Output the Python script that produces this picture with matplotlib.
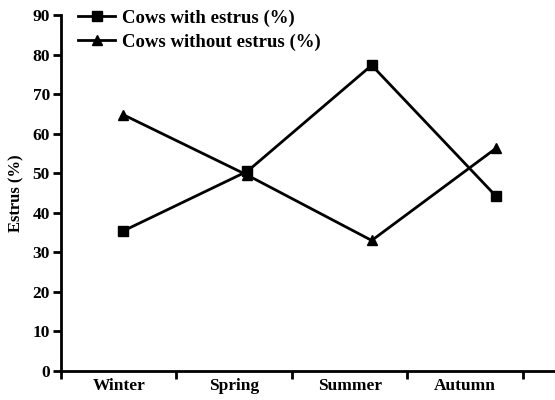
import numpy as np
import matplotlib.pyplot as plt

seasons = ['Winter', 'Spring', 'Summer', 'Autumn']
with_estrus = [35.4, 50.5, 77.3, 44.2]
without_estrus = [64.8, 49.5, 33.0, 56.3]

plt.rcParams['font.family'] = ['Liberation Serif']
plt.rcParams['font.weight'] = 'bold'

fig = plt.figure(figsize=(5.55, 4.0), dpi=100)
ax = fig.add_axes([0.110, 0.0725, 0.89, 0.89])

x = np.arange(len(seasons))
ax.plot(x, with_estrus, color='black', lw=2, marker='s', ms=7, label='Cows with estrus (%)')
ax.plot(x, without_estrus, color='black', lw=2, marker='^', ms=7, label='Cows without estrus (%)')
ax.set_xlim(-0.5, 3.475)
ax.set_ylim(0, 90)
ax.set_yticks(range(0, 91, 10))
ax.tick_params(axis='y', direction='out', length=6, width=2, labelsize=12.5, pad=2)
ax.set_xticks([])
ax.set_ylabel('Estrus (%)', fontsize=12, fontweight='bold', labelpad=6)
for s in ['top', 'right', 'bottom']:
    ax.spines[s].set_visible(False)
ax.spines['left'].set_linewidth(2)

# category axis along the bottom
ax2 = ax.twiny()
ax2.xaxis.set_ticks_position('bottom')
ax2.spines['bottom'].set_position(('axes', 0))
ax2.set_xlim(0, 4.28)
ax2.set_xticks(range(5))
ax2.set_xticklabels([])
ax2.set_xticks(np.arange(len(seasons)) + 0.5, minor=True)
ax2.set_xticklabels(seasons, minor=True, fontsize=12.5, fontweight='bold')
ax2.tick_params(axis='x', which='major', direction='out', length=6, width=2)
ax2.tick_params(axis='x', which='minor', length=0, pad=5)
for s in ['top', 'right', 'left']:
    ax2.spines[s].set_visible(False)
ax2.spines['bottom'].set_linewidth(2)

ax.legend(loc='upper left', bbox_to_anchor=(0.02, 1.036), frameon=False, fontsize=13.5,
          handlelength=1.95, handletextpad=0.4, labelspacing=0.35, borderaxespad=0)

fig.savefig('out.png', dpi=100)
